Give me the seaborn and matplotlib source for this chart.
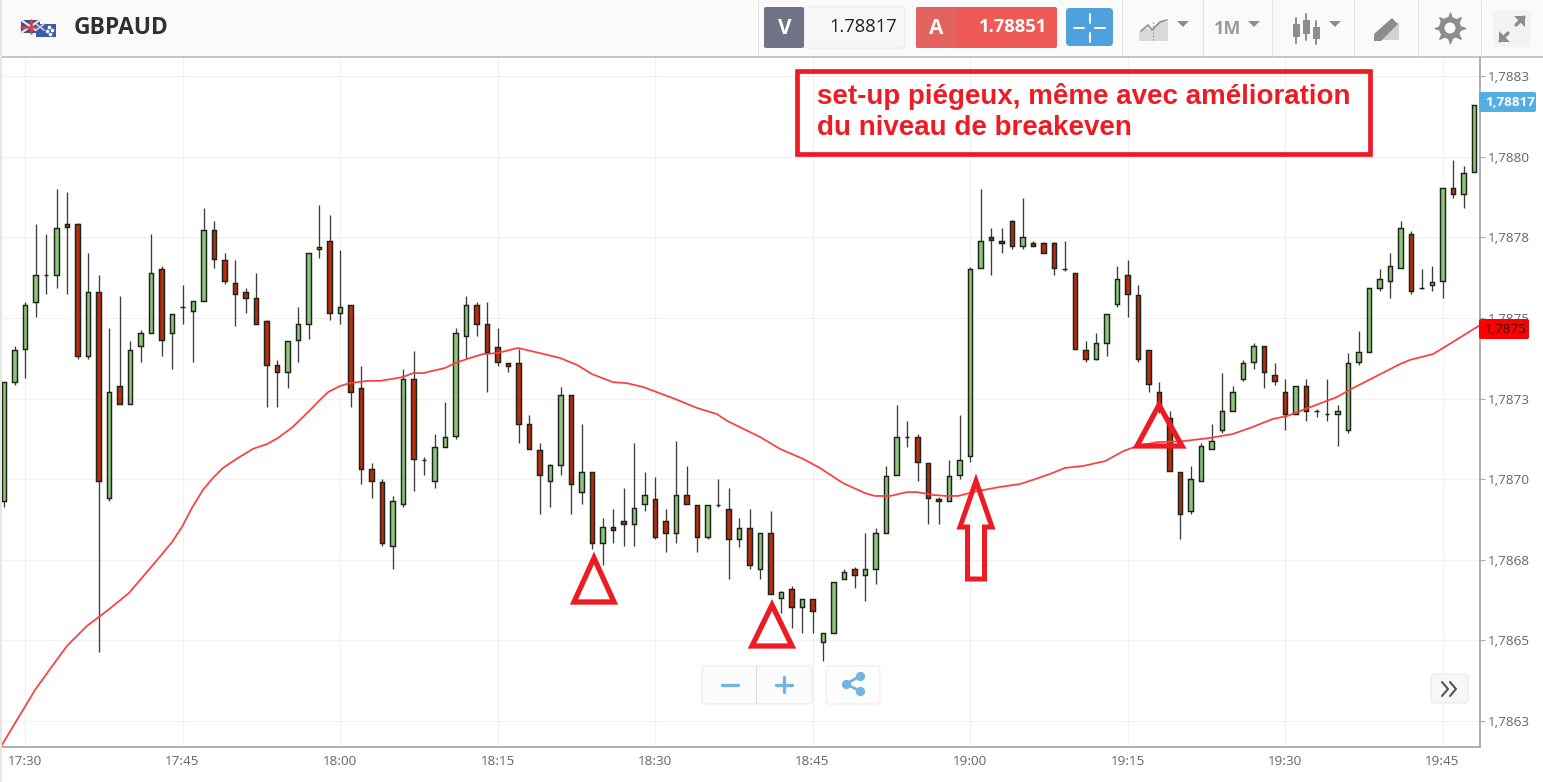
import numpy as np
import pandas as pd
import matplotlib
matplotlib.use("Agg")
import matplotlib.pyplot as plt
from matplotlib.patches import FancyBboxPatch, Polygon, Rectangle, Circle
import seaborn as sns

# prices are stored as millionths above 1.78 (7301 -> 1.787301)
PRICE_BASE = 1.78
PRICE_UNIT = 1e-6

opens = [
    6931, 7303, 7403, 7551, 7633, 7633, 7792, 7792, 7383, 7581,
    6942, 7290, 7234, 7412, 7452, 7651, 7452, 7533, 7521, 7552,
    7773, 7681, 7610, 7581, 7562, 7492, 7353, 7334, 7433, 7482,
    7713, 7739, 7515, 7541, 7282, 7031, 6992, 6792, 6924, 7312,
    7061, 6994, 7101, 7135, 7444, 7541, 7482, 7411, 7360, 7360,
    7172, 7090, 6994, 7043, 7261, 6961, 7021, 6802, 6852, 6869,
    6862, 6924, 6939, 6869, 6832, 6951, 6921, 6820, 6921, 6909,
    6814, 6850, 6721, 6833, 6632, 6659, 6603, 6629, 6494, 6523,
    6691, 6721, 6703, 6721, 6833, 7013, 7130, 7130, 7050, 6939,
    6932, 7013, 7073, 7654, 7750, 7740, 7802, 7724, 7732, 7732,
    7732, 7651, 7640, 7400, 7374, 7423, 7544, 7633, 7570, 7400,
    7271, 7189, 7021, 6902, 6994, 7094, 7153, 7212, 7311, 7364,
    7412, 7324, 7271, 7202, 7290, 7212, 7202, 7202, 7153, 7364,
    7393, 7592, 7614, 7654, 7762, 7592, 7603, 7614, 7902, 7884,
    7953,
]
closes = [
    7301, 7401, 7541, 7633, 7633, 7780, 7783, 7383, 7581, 6994,
    7272, 7234, 7401, 7453, 7640, 7433, 7512, 7533, 7552, 7773,
    7684, 7615, 7574, 7562, 7482, 7353, 7334, 7430, 7482, 7703,
    7721, 7515, 7533, 7272, 7031, 6994, 6802, 6932, 7312, 7064,
    7061, 7101, 7131, 7453, 7541, 7482, 7393, 7364, 7352, 7172,
    7094, 7013, 7043, 7261, 6984, 7021, 6802, 6852, 6843, 6862,
    6910, 6951, 6820, 6832, 6951, 6924, 6820, 6921, 6921, 6814,
    6850, 6733, 6833, 6645, 6651, 6603, 6629, 6592, 6523, 6682,
    6711, 6703, 6721, 6833, 7010, 7130, 7130, 7054, 6943, 6932,
    7010, 7060, 7651, 7740, 7742, 7732, 7724, 7750, 7724, 7703,
    7654, 7651, 7403, 7374, 7423, 7512, 7621, 7574, 7373, 7294,
    7215, 7024, 6892, 7001, 7102, 7120, 7212, 7271, 7360, 7412,
    7334, 7305, 7202, 7290, 7212, 7212, 7202, 7212, 7360, 7393,
    7592, 7621, 7662, 7780, 7585, 7592, 7611, 7902, 7884, 7950,
    8161,
]
highs = [
    7301, 7412, 7551, 7791, 7761, 7901, 7891, 7794, 7701, 7632,
    7469, 7568, 7429, 7462, 7761, 7661, 7512, 7602, 7552, 7842,
    7802, 7701, 7680, 7592, 7639, 7493, 7370, 7430, 7533, 7703,
    7851, 7820, 7710, 7541, 7351, 7050, 7000, 6949, 7341, 7399,
    7070, 7141, 7241, 7468, 7569, 7551, 7551, 7468, 7360, 7403,
    7200, 7112, 7047, 7287, 7261, 7171, 7021, 6879, 6909, 6972,
    7112, 7021, 7008, 6909, 7120, 7042, 6921, 6921, 7001, 6972,
    6879, 6909, 6833, 6902, 6654, 6668, 6629, 6629, 6523, 6682,
    6721, 6729, 6833, 6850, 7041, 7229, 7182, 7141, 7050, 6946,
    7060, 7200, 7659, 7901, 7778, 7778, 7804, 7871, 7740, 7737,
    7737, 7739, 7640, 7429, 7452, 7512, 7661, 7680, 7602, 7401,
    7300, 7210, 7021, 7042, 7112, 7170, 7329, 7288, 7370, 7422,
    7414, 7360, 7310, 7290, 7310, 7217, 7310, 7230, 7391, 7461,
    7592, 7651, 7701, 7802, 7771, 7651, 7662, 7902, 7990, 7971,
    8161,
]
lows = [
    6914, 7293, 7313, 7504, 7574, 7592, 7574, 7374, 7374, 6464,
    6931, 7234, 7234, 7364, 7452, 7383, 7341, 7482, 7364, 7552,
    7654, 7604, 7474, 7515, 7482, 7223, 7223, 7282, 7364, 7434,
    7685, 7493, 7482, 7223, 6985, 6943, 6792, 6722, 6913, 6962,
    7013, 6972, 7101, 7124, 7375, 7444, 7272, 7351, 7334, 7112,
    7094, 6892, 6913, 7013, 6892, 6924, 6785, 6735, 6802, 6792,
    6792, 6902, 6814, 6773, 6802, 6924, 6773, 6814, 6913, 6691,
    6791, 6721, 6691, 6645, 6585, 6540, 6523, 6523, 6435, 6523,
    6691, 6662, 6622, 6674, 6833, 7013, 7101, 6995, 6862, 6862,
    6932, 7002, 7054, 7654, 7633, 7703, 7714, 7714, 7724, 7703,
    7633, 7646, 7403, 7364, 7370, 7382, 7533, 7503, 7364, 7271,
    7205, 7024, 6814, 6892, 6994, 7094, 7143, 7212, 7304, 7341,
    7282, 7293, 7153, 7202, 7182, 7193, 7182, 7102, 7143, 7354,
    7393, 7584, 7562, 7654, 7574, 7591, 7584, 7562, 7872, 7842,
    7953,
]

# moving average (minutes after 17:30)
ma_minutes = [
    -2.38, 0.95, 2.38, 4.0, 5.9, 7.9, 9.9, 10.95, 12.57, 14.0, 14.95, 15.9,
    16.95, 17.9, 18.86, 20.0, 21.7, 23.05, 24.1, 25.5, 26.95, 28.1, 28.86,
    30.0, 30.95, 32.6, 33.8, 34.95, 36.0, 36.95, 37.9, 40.0, 40.95, 42.1,
    43.6, 44.95, 46.95, 49.05, 50.95, 52.6, 54.0, 56.0, 57.3, 58.86, 61.9,
    64.0, 65.9, 66.86, 70.0, 71.9, 74.1, 75.7, 77.9, 80.0, 80.95, 82.4, 84.0,
    84.95, 86.5, 87.8, 88.86, 90.67, 92.86, 94.76, 96.0, 97.6, 99.05, 100.76,
    102.86, 104.6, 105.9, 107.8, 110.3, 112.86, 115.0, 116.67, 118.86, 120.2,
    124.95, 126.5, 130.95, 131.9, 134.1, 136.0, 138.57,
]
ma_values = [
    6166, 6346, 6411, 6483, 6545, 6594, 6647, 6687, 6749, 6805, 6852, 6911,
    6967, 7004, 7035, 7060, 7094, 7109, 7128, 7162, 7208, 7246, 7270,
    7289, 7298, 7305, 7305, 7311, 7317, 7329, 7329, 7345, 7360, 7373,
    7388, 7391, 7407, 7391, 7376, 7354, 7326, 7301, 7298, 7286, 7249,
    7221, 7202, 7181, 7131, 7094, 7063, 7035, 6988, 6957, 6948, 6948, 6960,
    6960, 6951, 6948, 6948, 6963, 6976, 6985, 6998, 7016, 7035, 7041,
    7056, 7087, 7103, 7115, 7118, 7128, 7140, 7159, 7187, 7196,
    7255, 7283, 7357, 7370, 7388, 7426, 7478,
]

x_tick_minutes = [0, 15, 30, 45, 60, 75, 90, 105, 120, 135]
x_tick_labels = ["17:30", "17:45", "18:00", "18:15", "18:30",
                 "18:45", "19:00", "19:15", "19:30", "19:45"]
y_ticks = [1.78625, 1.7865, 1.78675, 1.787, 1.78725, 1.7875, 1.78775, 1.788, 1.78825]
y_tick_labels = ["1,7863", "1,7865", "1,7868", "1,7870", "1,7873",
                 "1,7875", "1,7878", "1,7880", "1,7883"]

W, H = 1543, 782
UP_COLOR = "#8ec47b"
DOWN_COLOR = "#b82d0c"
ANNOT_RED = "#ed1c24"
TICK_GRAY = "#666666"


def to_price(values):
    return PRICE_BASE + np.asarray(values, dtype=float) * PRICE_UNIT


def rounded(ax, x0, y0, x1, y1, color, edge="none", pad=2, zorder=2, lw=0.7):
    ax.add_patch(FancyBboxPatch((x0 + pad, y0 + pad), x1 - x0 - 2 * pad, y1 - y0 - 2 * pad,
                                boxstyle=f"round,pad={pad}", fc=color, ec=edge, lw=lw, zorder=zorder))


def draw_candles(ax, df):
    ax.vlines(df["minute"], df["low"], df["high"], color="#3c3c3c", lw=0.95, zorder=2)
    body_bottom = df[["open", "close"]].min(axis=1)
    body_height = (df["close"] - df["open"]).abs()
    colors = [UP_COLOR if c >= o else DOWN_COLOR for o, c in zip(df["open"], df["close"])]
    ax.bar(df["minute"], body_height, bottom=body_bottom, width=0.45, color=colors,
           edgecolor="#1c241c", linewidth=1.05, zorder=3)


def draw_toolbar(ui):
    ui.add_patch(Rectangle((0, 0), W, 56, fc="#fafafa", ec="none", zorder=1))
    ui.plot([0, W], [56.5, 56.5], color="#b4b4b4", lw=1.1, zorder=2)
    ui.add_patch(Rectangle((0, 0), 1.5, H, fc="#e6e6e6", ec="none", zorder=2))
    for x in [758, 1122, 1203, 1272, 1354, 1418, 1481]:
        ui.plot([x, x], [0, 56], color="#e4e4e4", lw=0.8, zorder=2)

    # flags
    ui.add_patch(Rectangle((21, 20), 19, 13, fc="#3d4f96", ec="none", zorder=3))
    ui.plot([21, 40], [20, 33], color="#e8e8ee", lw=1.6, zorder=3)
    ui.plot([21, 40], [33, 20], color="#e8e8ee", lw=1.6, zorder=3)
    ui.plot([30.5, 30.5], [20, 33], color="#d8434a", lw=1.8, zorder=3)
    ui.plot([21, 40], [26.5, 26.5], color="#d8434a", lw=1.8, zorder=3)
    ui.add_patch(Rectangle((36, 24), 20, 13, fc="#3a5cb0", ec="none", zorder=4))
    ui.plot([36, 44], [24, 30], color="#d9c9d4", lw=1.2, zorder=4)
    ui.plot([36, 44], [30, 24], color="#d9c9d4", lw=1.2, zorder=4)
    ui.scatter([49, 52, 50, 47], [27, 30, 34, 31], s=2.5, color="white", zorder=4)
    ui.text(74, 28, "GBPAUD", fontsize=16.4, fontweight="bold", color="#303030",
            va="center", ha="left", zorder=4)

    # bid box
    rounded(ui, 804, 7, 905, 48, "#f7f7f7", edge="#e9e9e9")
    rounded(ui, 764, 7, 804, 48, "#6f7385")
    ui.text(785, 28, "V", color="white", fontsize=15, fontweight="bold", ha="center", va="center", zorder=4)
    ui.text(897, 27, "1.78817", color="#222222", fontsize=13.2, ha="right", va="center", zorder=4)
    # ask box
    rounded(ui, 916, 7, 1057, 48, "#ee5a55")
    rounded(ui, 916, 7, 956, 48, "#e2625f")
    ui.text(936, 28, "A", color="white", fontsize=15, fontweight="bold", ha="center", va="center", zorder=4)
    ui.text(1047, 27, "1.78851", color="white", fontsize=13.2, fontweight="bold", ha="right", va="center", zorder=4)
    # crosshair button
    rounded(ui, 1066, 8, 1113, 46, "#4ea1dd", pad=4)
    for xs, ys in [([1074, 1084], [28, 28]), ([1095, 1105], [28, 28]),
                   ([1089.5, 1089.5], [14, 23]), ([1089.5, 1089.5], [33, 42])]:
        ui.plot(xs, ys, color="white", lw=1.4, zorder=4)

    # chart type icon
    icon_gray = "#d9d9d9"
    ui.add_patch(Polygon([(1139, 41), (1139, 32), (1147, 28), (1152, 31), (1160, 22), (1168, 22), (1168, 41)],
                         fc=icon_gray, ec="none", zorder=3))
    ui.plot([1141, 1148, 1152, 1160, 1167], [31, 25, 30, 22, 20], color="#8f8f8f", lw=1.2, zorder=4)
    ui.plot([1153, 1153], [22, 42], color="#8f8f8f", lw=0.9, ls=":", zorder=4)
    menu_gray = "#8d8d8d"
    for x in [1183, 1254, 1335]:
        ui.add_patch(Polygon([(x - 6, 21), (x + 6, 21), (x, 27)], fc=menu_gray, ec="none", zorder=3))
    ui.text(1228, 29, "1M", color="#9a9a9a", fontsize=13, fontweight="bold", ha="center", va="center", zorder=4)

    # candle icon
    for x, y0, y1, b0, b1 in [(1296, 18, 43, 24, 37), (1306, 14, 40, 20, 34), (1316, 21, 44, 27, 39)]:
        ui.plot([x, x], [y0, y1], color=menu_gray, lw=1.4, zorder=3)
        ui.add_patch(Rectangle((x - 3.5, b0), 7, b1 - b0, fc=menu_gray, ec="none", zorder=4))

    # drawing tool icon
    ui.add_patch(Polygon([(1399, 40), (1399, 22), (1380, 40)], fc="#d2d2d2", ec="none", zorder=3))
    ui.add_patch(Polygon([(1374, 34), (1392, 18), (1398, 24), (1381, 41), (1374, 41)],
                         fc=menu_gray, ec="none", zorder=4))

    # settings and fullscreen
    ui.add_patch(Circle((1450, 28), 11, fc=menu_gray, ec="none", zorder=3))
    ui.scatter([1450], [28], s=480, marker=(8, 1, 0), color=menu_gray, zorder=3)
    ui.add_patch(Circle((1450, 28), 5.5, fc="#fafafa", ec="none", zorder=4))
    ui.add_patch(Rectangle((1493, 10), 38, 37, fc="#f3f3f3", ec="none", zorder=3))
    for a, b in [((1500, 41), (1508, 33)), ((1524, 17), (1516, 25))]:
        ui.plot([a[0], b[0]], [a[1], b[1]], color=menu_gray, lw=2.4, zorder=4)
    ui.add_patch(Polygon([(1499, 42), (1499, 31), (1510, 42)], fc=menu_gray, ec="none", zorder=4))
    ui.add_patch(Polygon([(1525, 16), (1514, 16), (1525, 27)], fc=menu_gray, ec="none", zorder=4))


def draw_price_tags(ui):
    rounded(ui, 1479, 92, 1536, 112, "#55aee0")
    ui.text(1510, 102, "1,78817", color="white", fontsize=9.6, fontweight="bold", ha="center", va="center", zorder=4)
    rounded(ui, 1479, 319, 1529, 339, "#ff0000")
    ui.text(1506, 329.5, "1,7875", color="#3a0000", fontsize=9.6, ha="center", va="center", zorder=4)


def draw_zoom_controls(ui):
    blue = "#72b5e3"
    rounded(ui, 702, 666, 812, 704, "#fbfbfb", edge="#e8e8e8", pad=3)
    ui.plot([756, 756], [666, 704], color="#dcdcdc", lw=0.8, zorder=4)
    ui.plot([722, 738], [684.5, 684.5], color=blue, lw=2.4, zorder=4)
    ui.plot([776, 792], [684.5, 684.5], color=blue, lw=2.4, zorder=4)
    ui.plot([784, 784], [677, 692], color=blue, lw=2.4, zorder=4)
    rounded(ui, 826, 666, 880, 704, "#fdfdfd", edge="#ececec", pad=3)
    ui.plot([860, 846, 860], [676, 684, 691], color=blue, lw=2, zorder=4)
    ui.scatter([860, 846, 860], [676, 684, 691], s=32, color=blue, zorder=4)
    rounded(ui, 1431, 674, 1468, 703, "#f7f7f7", edge="#e8e8e8", pad=3)
    ui.plot([1442, 1448, 1442], [682, 689, 696], color="#555555", lw=1.5, zorder=4)
    ui.plot([1450, 1456, 1450], [682, 689, 696], color="#555555", lw=1.5, zorder=4)


def draw_annotations(ui):
    ui.add_patch(Rectangle((797, 70.5), 573, 83.5, fc="none", ec=ANNOT_RED, lw=3.4, zorder=6))
    ui.text(817, 96, "set-up piégeux, même avec amélioration", color=ANNOT_RED, fontsize=20,
            fontweight="bold", family="Liberation Sans", va="center", ha="left", zorder=6)
    ui.text(817, 128, "du niveau de breakeven", color=ANNOT_RED, fontsize=20,
            fontweight="bold", family="Liberation Sans", va="center", ha="left", zorder=6)
    triangles = [
        [(594, 558), (574, 602), (614, 602)],
        [(772, 605), (752, 646), (792, 646)],
        [(1159, 405), (1137, 446), (1182, 446)],
    ]
    for pts in triangles:
        ui.add_patch(Polygon(pts, closed=True, fc="none", ec=ANNOT_RED, lw=3.8, joinstyle="miter", zorder=6))
    arrow = [(976, 481), (992, 527), (984.5, 527), (984.5, 579), (967.5, 579), (967.5, 527), (960, 527)]
    ui.add_patch(Polygon(arrow, closed=True, fc="none", ec=ANNOT_RED, lw=3.6, joinstyle="miter", zorder=6))


def main():
    sns.set_theme(style="white")
    plt.rcParams["font.family"] = ["Open Sans", "DejaVu Sans"]

    candles = pd.DataFrame({
        "minute": np.arange(-2, len(closes) - 2),
        "open": to_price(opens),
        "high": to_price(highs),
        "low": to_price(lows),
        "close": to_price(closes),
    })
    moving_avg = pd.DataFrame({"minute": ma_minutes, "price": to_price(ma_values)})

    fig = plt.figure(figsize=(W / 100, H / 100), dpi=100, facecolor="white")
    ax = fig.add_axes([0, 1 - 747 / H, 1480 / W, 690 / H])

    ax.grid(True, color="#f1f1f1", lw=0.9, zorder=0)
    ax.set_axisbelow(True)
    draw_candles(ax, candles)
    sns.lineplot(data=moving_avg, x="minute", y="price", color="#ff3d3d", linewidth=1.25,
                 estimator=None, sort=False, ax=ax, zorder=4)

    ax.set_xlim(-2.381, 138.57)
    ax.set_ylim(to_price(6169.4), to_price(8309.5))
    ax.set_xlabel("")
    ax.set_ylabel("")
    ax.set_xticks(x_tick_minutes)
    ax.set_xticklabels(x_tick_labels)
    ax.set_yticks(y_ticks)
    ax.set_yticklabels(y_tick_labels)
    ax.yaxis.tick_right()
    ax.tick_params(axis="both", length=3.5, width=0.8, color="#aaaaaa", labelcolor=TICK_GRAY, labelsize=9.7, pad=2.5)
    for side in ["left", "top"]:
        ax.spines[side].set_visible(False)
    for side in ["right", "bottom"]:
        ax.spines[side].set_color("#a8a8a8")
        ax.spines[side].set_linewidth(1.3)

    # overlay in pixel coordinates for the platform chrome and hand-drawn marks
    ui = fig.add_axes([0, 0, 1, 1], facecolor="none")
    ui.set_xlim(0, W)
    ui.set_ylim(H, 0)
    ui.axis("off")
    draw_toolbar(ui)
    draw_price_tags(ui)
    draw_zoom_controls(ui)
    draw_annotations(ui)

    fig.savefig("out.png", dpi=100)
    plt.close(fig)


if __name__ == "__main__":
    main()
